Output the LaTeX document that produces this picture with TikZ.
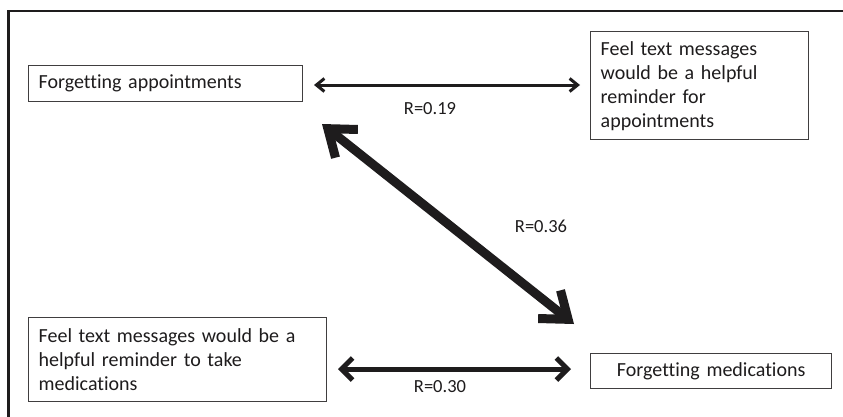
\documentclass[tikz,border=0pt]{standalone}
\usepackage{fontspec}
\setmainfont{Carlito}[Ligatures=NoCommon]
\usetikzlibrary{arrows.meta}
\definecolor{ink}{HTML}{1E1C1D}
\tikzset{
  box/.style={draw=ink!85, line width=1.4pt, rectangle, anchor=north west, inner xsep=9pt, inner ysep=0pt,
    font=\fontsize{20}{24}\selectfont, text=ink, align=left},
  rlabel/.style={font=\fontsize{18.5}{22}\selectfont, text=ink, inner sep=0pt},
  thinarr/.style={ink, line width=3pt, {Straight Barb[length=8pt,width=13pt]}-{Straight Barb[length=8pt,width=13pt]}},
  medarr/.style={ink, line width=5pt, {Straight Barb[length=11pt,width=22pt]}-{Straight Barb[length=11pt,width=22pt]}},
  thickarr/.style={ink, line width=9pt, {Straight Barb[length=24pt,width=36pt]}-{Straight Barb[length=24pt,width=36pt]}},
}
\begin{document}
\begin{tikzpicture}[x=1pt,y=-1pt]
\useasboundingbox (0,0) rectangle (843,416);
\fill[white] (0,0) rectangle (843,416);
% frame
\draw[ink, line width=2.5pt] (8.5,417) -- (8.5,11) -- (844,11);
% boxes
\node[box, minimum width=274pt, minimum height=36pt, text width=254pt] (b1) at (28,65) {Forgetting appointments};
\node[box, minimum width=218pt, minimum height=108pt, text width=198pt] (b2) at (590,31) {Feel text messages\\would be a helpful\\reminder for\\appointments};
\node[box, minimum width=298pt, minimum height=84pt, text width=278pt] (b3) at (28,317) {Feel text messages would be a\\helpful reminder to take\\medications};
\node[box, minimum width=241pt, minimum height=35pt, text width=221pt, align=center] (b4) at (590,353) {Forgetting medications};
% connector end points
\coordinate (t1) at (314,85);
\coordinate (t2) at (580,85);
\coordinate (d1) at (322,124);
\coordinate (d2) at (574,324);
\coordinate (m1) at (338,369);
\coordinate (m2) at (571,369);
% connectors
\draw[thinarr] (t1) -- (t2);
\draw[thickarr] (d1) -- (d2);
\draw[medarr] (m1) -- (m2);
% labels
\node[rlabel] (l1) at (430,109) {R=0.19};
\node[rlabel] (l2) at (541,226) {R=0.36};
\node[rlabel] (l3) at (440,387) {R=0.30};
\end{tikzpicture}
\end{document}
